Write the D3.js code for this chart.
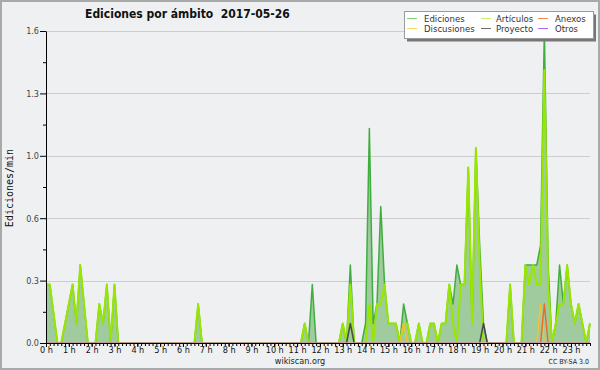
<!DOCTYPE html>
<html><head><meta charset="utf-8">
<script src="https://cdn.jsdelivr.net/npm/d3@7/dist/d3.min.js"></script>
<style>body{margin:0;background:#eff0f1}svg{display:block}</style>
</head><body>
<svg id="c" width="600" height="370"></svg>
<script>
// ---- DATA (edits per minute, 10-minute bins, 6 bins per hour) ----
const hourLabels = ["0 h","1 h","2 h","3 h","4 h","5 h","6 h","7 h","8 h","9 h","10 h","11 h",
  "12 h","13 h","14 h","15 h","16 h","17 h","18 h","19 h","20 h","21 h","22 h","23 h"];
const yTicks = [0, 0.32, 0.64, 0.96, 1.28, 1.6];
const yTickLabels = ["0.0","0.3","0.6","1.0","1.3","1.6"];
const seriesNames = ["Ediciones","Artículos","Anexos","Discusiones","Proyecto","Otros"];

const ediciones = [
  0.3,0.3,0.15,0,0,0.1,   0.2,0.3,0.1,0.4,0.2,0,   0,0,0.2,0.1,0.3,0,   0.3,0,0,0,0,0,
  0,0,0,0,0,0,   0,0,0,0,0,0,   0,0,0,0,0.2,0,   0,0,0,0,0,0,
  0,0,0,0,0,0,   0,0,0,0,0,0,   0,0,0,0,0,0,   0,0,0.1,0,0.3,0,
  0,0,0,0,0,0,   0.1,0,0.4,0,0,0,   0.1,1.1,0.1,0.2,0.7,0.3,   0.1,0.1,0.1,0,0.2,0.1,
  0,0,0.1,0,0,0.1,   0.1,0,0.1,0.1,0.3,0.2,   0.4,0.3,0.3,0.9,0.1,1.0,   0.5,0.1,0,0,0,0,
  0,0,0.3,0,0,0,   0.4,0.4,0.4,0.4,0.5,1.6,   0.4,0,0.1,0.4,0.2,0.4,   0.2,0.1,0.2,0.1,0,0.1
];
const articulos = [
  0.3,0.3,0.15,0,0,0.1,   0.2,0.3,0.1,0.4,0.2,0,   0,0,0.2,0.1,0.3,0,   0.3,0,0,0,0,0,
  0,0,0,0,0,0,   0,0,0,0,0,0,   0,0,0,0,0.2,0,   0,0,0,0,0,0,
  0,0,0,0,0,0,   0,0,0,0,0,0,   0,0,0,0,0,0,   0,0,0.1,0,0,0,
  0,0,0,0,0,0,   0.1,0,0.3,0,0,0,   0,0.2,0,0.2,0.2,0.3,   0.1,0.1,0.1,0,0.1,0.1,
  0,0,0.1,0,0,0.1,   0.1,0,0.1,0.1,0.3,0.1,   0,0.3,0.3,0.9,0.1,1.0,   0.4,0,0,0,0,0,
  0,0,0.3,0,0,0,   0.4,0.3,0.4,0.3,0.3,1.4,   0.3,0,0.1,0.2,0.2,0.4,   0.2,0.1,0.2,0.1,0,0.1
];
const discusiones = [
  0,0,0,0,0,0,   0,0,0,0,0,0,   0,0,0,0,0,0,   0,0,0,0,0,0,
  0,0,0,0,0,0,   0,0,0,0,0,0,   0,0,0,0,0,0,   0,0,0,0,0,0,
  0,0,0,0,0,0,   0,0,0,0,0,0,   0,0,0,0,0,0,   0,0,0,0,0,0,
  0,0,0,0,0,0,   0,0,0,0,0,0,   0,0,0,0,0,0,   0,0,0,0,0.1,0,
  0,0,0,0,0,0,   0,0,0,0,0,0,   0,0,0,0,0,0,   0,0,0,0,0,0,
  0,0,0,0,0,0,   0,0,0,0,0.2,0,   0,0,0,0,0,0,   0,0,0,0,0,0
];
const proyecto = [
  0,0,0,0,0,0,   0,0,0,0,0,0,   0,0,0,0,0,0,   0,0,0,0,0,0,
  0,0,0,0,0,0,   0,0,0,0,0,0,   0,0,0,0,0,0,   0,0,0,0,0,0,
  0,0,0,0,0,0,   0,0,0,0,0,0,   0,0,0,0,0,0,   0,0,0,0,0,0,
  0,0,0,0,0,0,   0,0,0.1,0,0,0,   0,0,0,0,0,0,   0,0,0,0,0,0,
  0,0,0,0,0,0,   0,0,0,0,0,0,   0,0,0,0,0,0,   0,0.1,0,0,0,0,
  0,0,0,0,0,0,   0,0,0,0,0,0,   0,0,0,0,0,0,   0,0,0,0,0,0
];
const anexos = [
  0,0,0,0,0,0,   0,0,0,0,0,0,   0,0,0,0,0,0,   0,0,0,0,0,0,
  0,0,0,0,0,0,   0,0,0,0,0,0,   0,0,0,0,0,0,   0,0,0,0,0,0,
  0,0,0,0,0,0,   0,0,0,0,0,0,   0,0,0,0,0,0,   0,0,0,0,0,0,
  0,0,0,0,0,0,   0,0,0,0,0,0,   0,0,0,0,0,0,   0,0,0,0,0,0,
  0,0,0,0,0,0,   0,0,0,0,0,0,   0,0,0,0,0,0,   0,0,0,0,0,0,
  0,0,0,0,0,0,   0,0,0,0,0,0.2,   0,0,0,0,0,0,   0,0,0,0,0,0
];
const otros = [
  0,0,0,0,0,0,   0,0,0,0,0,0,   0,0,0,0,0,0,   0,0,0,0,0,0,
  0,0,0,0,0,0,   0,0,0,0,0,0,   0,0,0,0,0,0,   0,0,0,0,0,0,
  0,0,0,0,0,0,   0,0,0,0,0,0,   0,0,0,0,0,0,   0,0,0,0,0,0,
  0,0,0,0,0,0,   0,0,0,0,0,0,   0,0,0,0,0,0,   0,0,0,0,0,0,
  0,0,0,0,0,0,   0,0,0,0,0,0,   0,0,0,0,0,0,   0,0,0,0,0,0,
  0,0,0,0,0,0,   0,0,0,0,0,0,   0,0,0,0,0,0,   0,0,0,0,0,0
];

// ---- STYLE ----
const FONT = "'DejaVu Sans Condensed','DejaVu Sans',sans-serif";
const colors = {
  Ediciones: "#3fae3f", "Artículos": "#99e600", Anexos: "#f06a2a",
  Discusiones: "#f2c22a", Proyecto: "#4a4a4a", Otros: "#9a4ce6"
};
const legendColors = {
  Ediciones: "#7fcf7f", "Artículos": "#c9f06a", Anexos: "#f38a5a",
  Discusiones: "#f8d860", Proyecto: "#6a6a6a", Otros: "#a86af0"
};

const svg = d3.select("#c");
svg.append("rect").attr("width",600).attr("height",370).attr("fill","#eff0f1");
svg.append("rect").attr("x",1).attr("y",1).attr("width",598).attr("height",368)
  .attr("fill","none").attr("stroke","#a9a9a9").attr("stroke-width",2);

const x = d3.scaleLinear().domain([0, 143]).range([46, 590]);
const y = d3.scaleLinear().domain([0, 1.6]).range([343, 31]);

// gridlines
svg.append("g").selectAll("line").data(yTicks.filter(t => t > 0)).join("line")
  .attr("x1", 46).attr("x2", 590)
  .attr("y1", d => Math.round(y(d)) + 0.5).attr("y2", d => Math.round(y(d)) + 0.5)
  .attr("stroke", "#cdcdcd").attr("stroke-width", 1);

// clip (keep zero-valued line segments under the axis)
svg.append("defs").append("clipPath").attr("id","pc")
  .append("rect").attr("x",40).attr("y",0).attr("width",560).attr("height",342.2);

const plot = svg.append("g").attr("clip-path","url(#pc)");
const area = d3.area().x((d,i) => x(i)).y0(y(0)).y1(d => y(d));
const line = d3.line().x((d,i) => x(i)).y(d => y(d));

plot.append("path").datum(ediciones).attr("d", area).attr("fill", "#9fcb9f");
plot.append("path").datum(ediciones).attr("d", line).attr("fill","none")
  .attr("stroke", colors.Ediciones).attr("stroke-width", 1.5).attr("stroke-linejoin","round");
plot.append("path").datum(articulos).attr("d", line).attr("fill","none")
  .attr("stroke", colors["Artículos"]).attr("stroke-width", 2).attr("stroke-linejoin","round");
[[discusiones,"Discusiones"],[proyecto,"Proyecto"],[anexos,"Anexos"],[otros,"Otros"]].forEach(([d,n]) => {
  plot.append("path").datum(d).attr("d", line).attr("fill","none")
    .attr("stroke", colors[n]).attr("stroke-width", 1.5).attr("stroke-linejoin","round");
});

// y axis
const yAxis = svg.append("g").attr("transform","translate(46,0)")
  .call(d3.axisLeft(y).tickValues(yTicks).tickFormat((d,i) => yTickLabels[i]).tickSize(6).tickSizeOuter(0).tickPadding(1));
svg.append("g").attr("transform","translate(46,0)")
  .call(d3.axisLeft(y).tickValues(d3.range(0.16, 1.6, 0.32)).tickFormat("").tickSize(3).tickSizeOuter(0))
  .select(".domain").remove();
yAxis.selectAll("text").attr("font-family", FONT).attr("font-size", 9).attr("fill", "#444");

// x axis
const xAxis = svg.append("g").attr("transform","translate(0,343)")
  .call(d3.axisBottom(x).tickValues(d3.range(0, 144, 6)).tickFormat((d,i) => hourLabels[i]).tickSize(4).tickSizeOuter(0).tickPadding(0));
svg.append("g").attr("transform","translate(0,343)")
  .call(d3.axisBottom(x).tickValues(d3.range(0, 144, 1)).tickFormat("").tickSize(3).tickSizeOuter(0))
  .select(".domain").remove();
xAxis.selectAll("text").attr("font-family", FONT).attr("font-size", 9).attr("fill", "#111");
svg.selectAll(".domain").attr("stroke","#000");
svg.selectAll(".tick line").attr("stroke","#000");

// titles
const title = svg.append("text").attr("x", 85).attr("y", 18)
  .attr("font-family", FONT).attr("font-weight", "bold").attr("font-size", 12).attr("fill", "#111")
  .attr("xml:space","preserve").style("white-space","pre")
  .text("Ediciones por ámbito  2017-05-26");
if (title.node().getComputedTextLength() > 206) title.attr("textLength", 205).attr("lengthAdjust","spacingAndGlyphs");

svg.append("text").attr("transform","translate(13,188) rotate(-90)").attr("text-anchor","middle")
  .attr("font-family", "'DejaVu Sans Mono',monospace").attr("font-size", 10).attr("fill","#111")
  .text("Ediciones/min");

svg.append("text").attr("x", 300).attr("y", 364).attr("text-anchor","middle")
  .attr("font-family", FONT).attr("font-size", 9).attr("fill","#222").text("wikiscan.org");
svg.append("text").attr("x", 589).attr("y", 364).attr("text-anchor","end")
  .attr("font-family", FONT).attr("font-size", 7).attr("fill","#222").text("CC BY-SA 3.0");

// legend
const lg = svg.append("g");
lg.append("rect").attr("x", 407).attr("y", 14.5).attr("width", 189).attr("height", 27).attr("fill", "#777");
lg.append("rect").attr("x", 404.5).attr("y", 11.5).attr("width", 189).attr("height", 27)
  .attr("fill", "#fff").attr("stroke", "#9a9a9a").attr("stroke-width", 1);
const legendPos = {
  Ediciones: [407, 0], Discusiones: [407, 1], "Artículos": [481, 0],
  Proyecto: [481, 1], Anexos: [538, 0], Otros: [538, 1]
};
const textOff = {407: 17, 481: 15, 538: 17};
seriesNames.forEach(n => {
  const [lx, row] = legendPos[n];
  const ly = 18.5 + row * 10;
  lg.append("line").attr("x1", lx).attr("x2", lx + 10).attr("y1", ly).attr("y2", ly)
    .attr("stroke", legendColors[n]).attr("stroke-width", 1);
  lg.append("text").attr("x", lx + textOff[lx]).attr("y", ly + 3.5)
    .attr("font-family", FONT).attr("font-size", 9.5).attr("fill", "#333").text(n);
});
</script>
</body></html>
